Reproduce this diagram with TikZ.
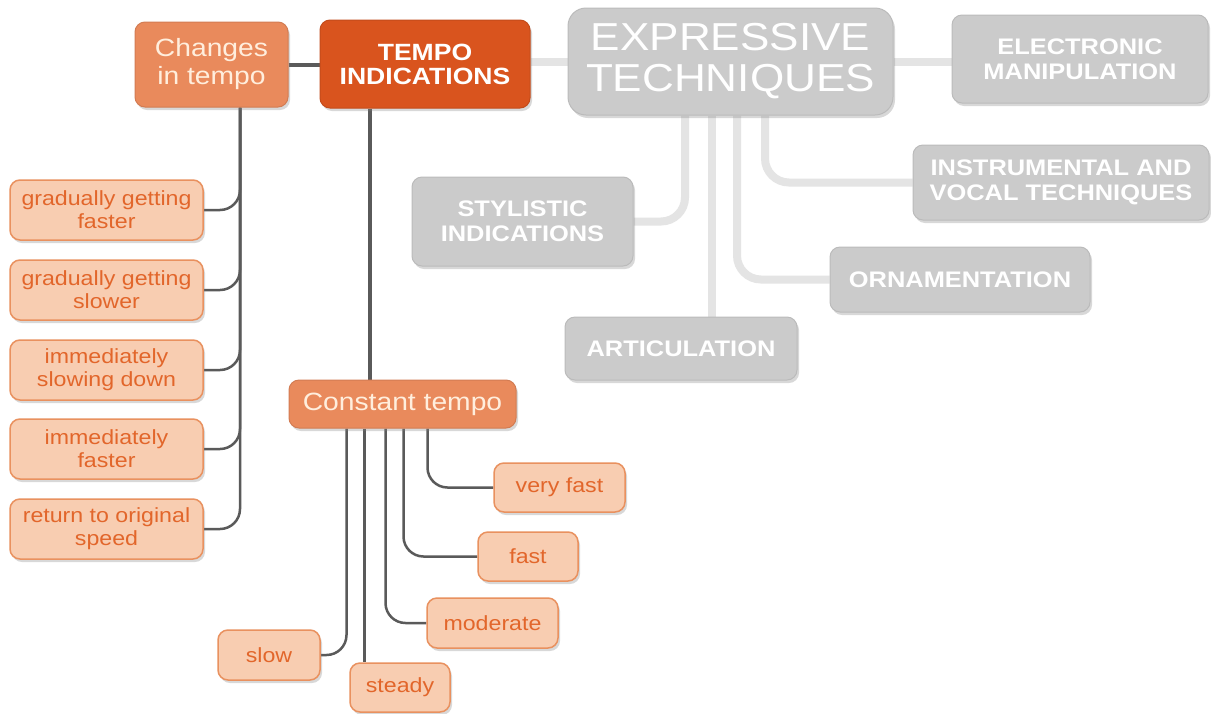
\documentclass[tikz,border=0pt]{standalone}
\usepackage{fontspec}
\setmainfont{Liberation Sans}[FakeStretch=1.13]
\usetikzlibrary{shadows}

\definecolor{leaffill}{HTML}{F8CDB1}
\definecolor{leafline}{HTML}{E9915F}
\definecolor{leaftext}{HTML}{E2662B}
\definecolor{midfill}{HTML}{E98A5C}
\definecolor{midtext}{HTML}{FFEEDD}
\definecolor{topfill}{HTML}{D9541E}
\definecolor{greyfill}{HTML}{CBCBCB}
\definecolor{greyline}{HTML}{E4E4E4}
\definecolor{darkline}{HTML}{5A5A5A}

\pgfdeclarelayer{bg}
\pgfsetlayers{bg,main}

\tikzset{
  box/.style={
    rounded corners=10pt,
    align=center,
    inner sep=0pt,
    drop shadow={shadow xshift=2pt, shadow yshift=-3pt, opacity=0.3}
  },
  leaf/.style={
    box,
    fill=leaffill,
    draw=leafline,
    line width=1.5pt,
    text=leaftext,
    font=\fontsize{20.5}{23}\selectfont,
    minimum height=49pt
  },
  midbox/.style={
    box,
    fill=midfill,
    draw=midfill!90!black,
    line width=1pt,
    text=midtext,
    font=\fontsize{25}{28}\selectfont
  },
  topbox/.style={
    box,
    fill=topfill,
    draw=topfill!90!black,
    line width=1pt,
    text=white,
    font=\bfseries\fontsize{23.5}{24}\selectfont
  },
  greybox/.style={
    box,
    fill=greyfill,
    draw=greyfill!92!black,
    line width=1pt,
    text=white,
    font=\bfseries\fontsize{22.5}{25}\selectfont
  },
  link/.style={
    draw=darkline,
    line width=2.5pt,
    rounded corners=20pt
  },
  trunk/.style={
    link,
    line width=4pt
  },
  glink/.style={
    draw=greyline,
    line width=8pt,
    rounded corners=24pt
  }
}

\begin{document}
\begin{tikzpicture}[x=1pt, y=-1pt]
    \useasboundingbox (0,0) rectangle (1211,713);

    % main boxes
    \node[midbox, minimum width=153pt, minimum height=85pt] (chg) at (211.5,64.5) {Changes\\in tempo};
    \node[topbox, minimum width=210pt, minimum height=88pt] (tempo) at (425,64) {TEMPO\\INDICATIONS};
    \node[greybox, minimum width=325pt, minimum height=107pt, rounded corners=18pt,
          font=\fontsize{39}{41}\selectfont] (exp) at (730.5,61.5) {EXPRESSIVE\\TECHNIQUES};

    % other expressive techniques
    \node[greybox, minimum width=256pt, minimum height=88pt] (elec) at (1080,59) {ELECTRONIC\\MANIPULATION};
    \node[greybox, minimum width=296pt, minimum height=75pt] (instr) at (1061,182.5) {INSTRUMENTAL AND\\VOCAL TECHNIQUES};
    \node[greybox, minimum width=221pt, minimum height=89pt] (styl) at (522.5,221.5) {STYLISTIC\\INDICATIONS};
    \node[greybox, minimum width=260pt, minimum height=65pt] (orn) at (960,279.5) {ORNAMENTATION};
    \node[greybox, minimum width=232pt, minimum height=63pt] (art) at (681,348.5) {ARTICULATION};

    % changes in tempo
    \node[leaf, minimum width=193pt, minimum height=60pt] (gfaster) at (106.5,210) {gradually getting\\faster};
    \node[leaf, minimum width=193pt, minimum height=60pt] (gslower) at (106.5,290) {gradually getting\\slower};
    \node[leaf, minimum width=193pt, minimum height=60pt] (islow) at (106.5,370) {immediately\\slowing down};
    \node[leaf, minimum width=193pt, minimum height=60pt] (ifaster) at (106.5,449) {immediately\\faster};
    \node[leaf, minimum width=193pt, minimum height=60pt] (retorig) at (106.5,529) {return to original\\speed};

    % constant tempo
    \node[midbox, minimum width=227pt, minimum height=48pt] (cst) at (402.5,404) {Constant tempo};
    \node[leaf, minimum width=131pt] (vfast) at (559.5,487.5) {very fast};
    \node[leaf, minimum width=100pt] (fast) at (528,556.5) {fast};
    \node[leaf, minimum width=131pt, minimum height=50pt] (mod) at (492.5,623) {moderate};
    \node[leaf, minimum width=102pt, minimum height=50pt] (slow) at (269,655) {slow};
    \node[leaf, minimum width=100pt] (steady) at (400,687.5) {steady};

    % branch points
    \coordinate (c0) at ([xshift=28.5pt]chg.south);
    \coordinate (t0) at ([xshift=-55pt]tempo.south);
    \coordinate (s1) at ([xshift=-56pt]cst.south);
    \coordinate (s2) at ([xshift=-38pt]cst.south);
    \coordinate (s3) at ([xshift=-17pt]cst.south);
    \coordinate (s4) at ([xshift=1pt]cst.south);
    \coordinate (s5) at ([xshift=25pt]cst.south);
    \coordinate (e1) at ([xshift=-45.5pt]exp.south);
    \coordinate (e2) at ([xshift=-18.5pt]exp.south);
    \coordinate (e3) at ([xshift=6.5pt]exp.south);
    \coordinate (e4) at ([xshift=34.5pt]exp.south);

    \begin{pgfonlayer}{bg}
      \fill[white] (0,0) rectangle (1211,713);

      % grey connectors
      \draw[glink] (exp.west) -- (exp.west -| tempo.east);
      \draw[glink] (exp.east) -- (exp.east -| elec.west);
      \draw[glink] (e1) |- (styl.east);
      \draw[glink] (e2) -- (e2 |- art.north);
      \draw[glink] (e3) |- (orn.west);
      \draw[glink] (e4) |- (instr.west);

      % tempo connectors
      \draw[trunk] (chg.east) -- (chg.east -| tempo.west);
      \draw[trunk] (t0) -- (t0 |- cst.north);
      \foreach \n in {gfaster,gslower,islow,ifaster,retorig}
        \draw[link] (c0) |- (\n.east);

      \draw[link] (s1) |- (slow.east);
      \draw[link] (s2) -- (s2 |- steady.north);
      \draw[link] (s3) |- (mod.west);
      \draw[link] (s4) |- (fast.west);
      \draw[link] (s5) |- (vfast.west);
    \end{pgfonlayer}

\end{tikzpicture}
\end{document}
